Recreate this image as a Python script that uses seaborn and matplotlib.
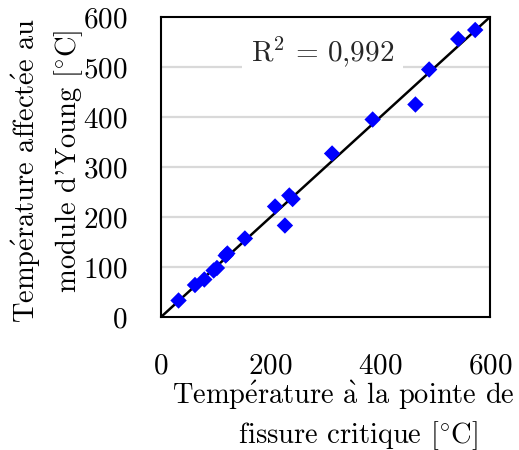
import matplotlib
matplotlib.use("Agg")
import matplotlib.pyplot as plt
import seaborn as sns
import pandas as pd

# -----------------------------
# Data
# -----------------------------
temp_crack = [32, 62, 79, 96, 102, 118, 121, 153, 208, 226, 234, 240, 312, 386, 464, 489, 542, 573]
temp_young = [33, 64, 75, 93, 98, 123, 127, 157, 221, 183, 243, 236, 327, 395, 425, 495, 556, 574]
diag_x = [0, 600]
diag_y = [0, 600]
ticks = [0, 200, 400, 600]
yticks = [0, 100, 200, 300, 400, 500, 600]
r2_text = r"$\mathrm{R}^2\,=\,0{,}992$"
# accents / degree through mathtext so the Computer Modern look is kept
xlabel = ("Temp$\\acute{\\mathrm{e}}$rature $\\grave{\\mathrm{a}}$ la pointe de\n"
          "   fissure critique $[^{\\circ}\\mathrm{C}]$")
ylabel = ("Temp$\\acute{\\mathrm{e}}$rature affect$\\acute{\\mathrm{e}}$e au\n"
          "  module d'Young $[^{\\circ}\\mathrm{C}]$")

df = pd.DataFrame({"crack": temp_crack, "young": temp_young})
line_df = pd.DataFrame({"x": diag_x, "y": diag_y})

# -----------------------------
# Style
# -----------------------------
sns.set_theme(style="white")
plt.rcParams["font.family"] = ["cmr10", "DejaVu Serif"]
plt.rcParams["mathtext.fontset"] = "cm"
plt.rcParams["axes.formatter.use_mathtext"] = True

fig = plt.figure(figsize=(5.19, 4.5), dpi=100)
ax = fig.add_axes([161 / 519, 133 / 450, 329 / 519, 300 / 450])

# grid (horizontal only)
for v in yticks[1:-1]:
    ax.axhline(v, color="#d9d9d9", lw=1.6, zorder=0)

sns.lineplot(data=line_df, x="x", y="y", color="black", lw=1.8, ax=ax, zorder=2)
sns.scatterplot(data=df, x="crack", y="young", marker="D", s=70, color="#0000ff",
                edgecolor="none", ax=ax, zorder=3)

ax.text(295, 530, r2_text, fontsize=21, ha="center", va="center", zorder=4,
        bbox=dict(boxstyle="square,pad=0.3", fc="white", ec="none"))

ax.set_xlim(0, 600)
ax.set_ylim(0, 600)
ax.set_xticks(ticks)
ax.set_yticks(yticks)
ax.tick_params(axis="both", direction="in", length=7, width=1.2, color="black",
               labelsize=21, labelcolor="black")
ax.tick_params(axis="x", pad=26)
ax.tick_params(axis="y", pad=24)
for s in ax.spines.values():
    s.set_color("black")
    s.set_linewidth(1.5)

ax.set_xlabel(xlabel, fontsize=20.5, color="black", linespacing=1.3)
ax.xaxis.set_label_coords(0.555, -0.208)
ax.xaxis.label.set_va("top")
ax.set_ylabel(ylabel, fontsize=20.5, color="black", linespacing=1.4)
ax.yaxis.set_label_coords(-0.23, 0.49)

fig.savefig("out.png", dpi=100)
plt.close()
